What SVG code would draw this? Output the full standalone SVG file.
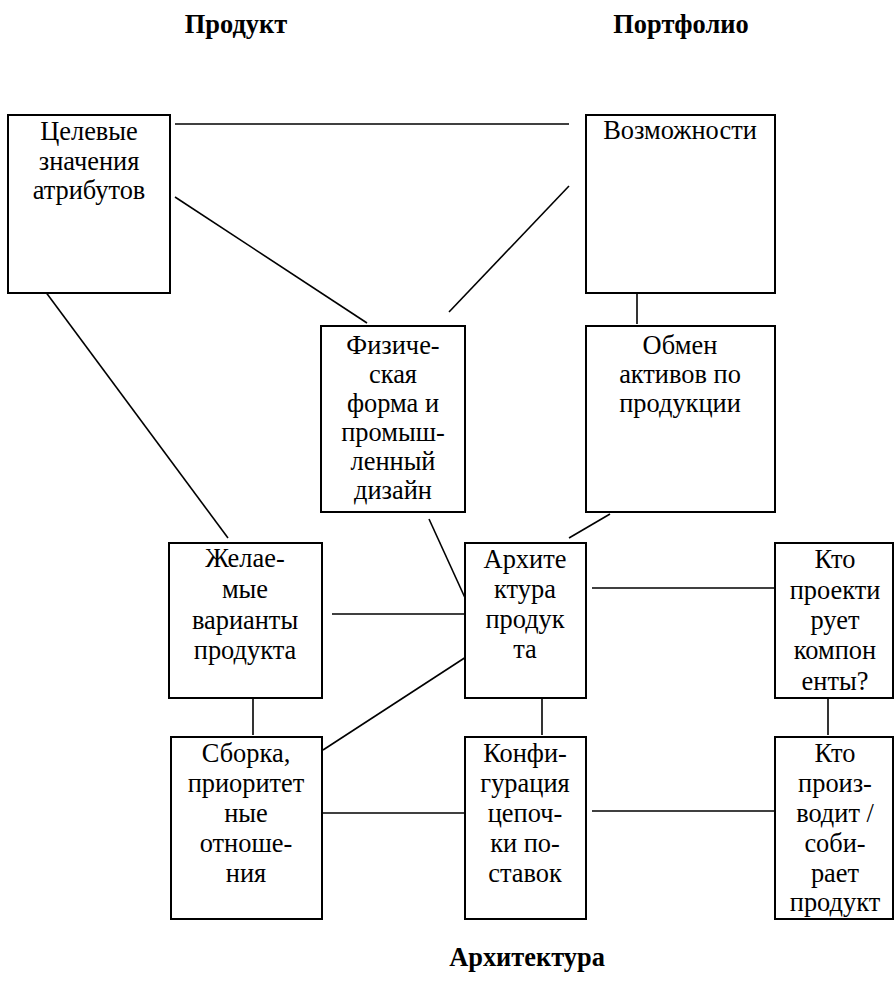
<svg xmlns="http://www.w3.org/2000/svg" width="896" height="985" viewBox="0 0 896 985">
<style>
.box{fill:#fff;stroke:#000;stroke-width:2}
.ln{stroke:#000;stroke-width:1.6;fill:none}
text{font-family:'Liberation Serif','Times New Roman','DejaVu Serif',serif;font-size:26.4px;text-anchor:middle;fill:#000}
.h{font-weight:bold}
</style>
<rect width="896" height="985" fill="#fff"/>
<g id="connectors">
<line class="ln" x1="175" y1="124" x2="569" y2="124"/>
<line class="ln" x1="175" y1="197" x2="367" y2="323"/>
<line class="ln" x1="569" y1="186" x2="449" y2="312"/>
<line class="ln" x1="637" y1="291" x2="637" y2="324"/>
<line class="ln" x1="45" y1="291" x2="228" y2="538"/>
<line class="ln" x1="429" y1="519" x2="466" y2="600"/>
<line class="ln" x1="610" y1="514" x2="569" y2="538"/>
<line class="ln" x1="332" y1="614" x2="467" y2="614"/>
<line class="ln" x1="592" y1="588" x2="775" y2="588"/>
<line class="ln" x1="466" y1="657" x2="323" y2="750"/>
<line class="ln" x1="253" y1="698" x2="253" y2="735"/>
<line class="ln" x1="542" y1="698" x2="542" y2="735"/>
<line class="ln" x1="828" y1="698" x2="828" y2="735"/>
<line class="ln" x1="323" y1="813" x2="467" y2="813"/>
<line class="ln" x1="592" y1="811" x2="775" y2="811"/>
</g>
<g id="titles">
<text class="h" x="236" y="33">Продукт</text>
<text class="h" x="681" y="33">Портфолио</text>
<text class="h" x="527" y="966">Архитектура</text>
</g>
<g id="n1">
<rect class="box" x="8" y="115" width="162" height="178"/>
<text x="89" y="140">Целевые</text>
<text x="89" y="170">значения</text>
<text x="89" y="199">атрибутов</text>
</g>
<g id="n2">
<rect class="box" x="586" y="115" width="189" height="178"/>
<text x="680" y="139">Возможности</text>
</g>
<g id="n3">
<rect class="box" x="321" y="326" width="144" height="186"/>
<text x="393" y="354">Физиче-</text>
<text x="393" y="383">ская</text>
<text x="393" y="412">форма и</text>
<text x="393" y="441">промыш-</text>
<text x="393" y="470">ленный</text>
<text x="393" y="499">дизайн</text>
</g>
<g id="n4">
<rect class="box" x="586" y="326" width="189" height="186"/>
<text x="680" y="354">Обмен</text>
<text x="680" y="383">активов по</text>
<text x="680" y="412">продукции</text>
</g>
<g id="n5">
<rect class="box" x="169" y="543" width="153" height="155"/>
<text x="245" y="567">Желае-</text>
<text x="245" y="598">мые</text>
<text x="245" y="629">варианты</text>
<text x="245" y="659">продукта</text>
</g>
<g id="n6">
<rect class="box" x="465" y="543" width="121" height="155"/>
<text x="525" y="568">Архите</text>
<text x="525" y="598">ктура</text>
<text x="525" y="628">продук</text>
<text x="525" y="658">та</text>
</g>
<g id="n7">
<rect class="box" x="775" y="543" width="118" height="155"/>
<text x="835" y="568">Кто</text>
<text x="835" y="599">проекти</text>
<text x="835" y="629">рует</text>
<text x="835" y="659">компон</text>
<text x="835" y="690">енты?</text>
</g>
<g id="n8">
<rect class="box" x="171" y="737" width="151" height="182"/>
<text x="246" y="762">Сборка,</text>
<text x="246" y="792">приоритет</text>
<text x="246" y="822">ные</text>
<text x="246" y="852">отноше-</text>
<text x="246" y="882">ния</text>
</g>
<g id="n9">
<rect class="box" x="465" y="737" width="121" height="182"/>
<text x="525" y="762">Конфи-</text>
<text x="525" y="792">гурация</text>
<text x="525" y="822">цепоч-</text>
<text x="525" y="852">ки по-</text>
<text x="525" y="882">ставок</text>
</g>
<g id="n10">
<rect class="box" x="775" y="737" width="118" height="182"/>
<text x="835" y="762">Кто</text>
<text x="835" y="792">произ-</text>
<text x="835" y="822">водит /</text>
<text x="835" y="852">соби-</text>
<text x="835" y="882">рает</text>
<text x="835" y="911">продукт</text>
</g>
</svg>
